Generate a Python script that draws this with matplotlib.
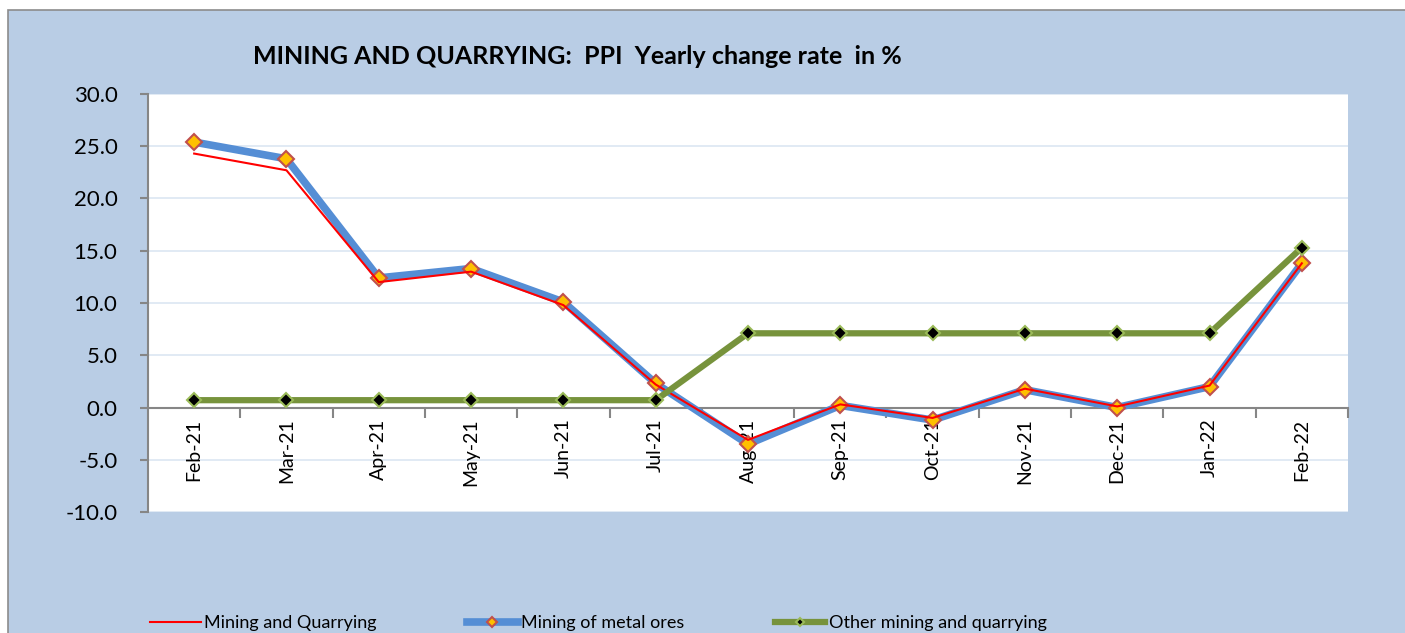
import numpy as np
import matplotlib.pyplot as plt
from matplotlib.patches import Rectangle
from matplotlib.ticker import FixedLocator, NullFormatter

plt.rcParams['font.family'] = ['Lato', 'DejaVu Sans']

months = ['Feb-21', 'Mar-21', 'Apr-21', 'May-21', 'Jun-21', 'Jul-21', 'Aug-21',
          'Sep-21', 'Oct-21', 'Nov-21', 'Dec-21', 'Jan-22', 'Feb-22']
mining_quarrying = [24.3, 22.7, 12.0, 13.0, 9.8, 2.2, -3.1, 0.3, -1.0, 1.8, 0.1, 2.1, 13.8]
metal_ores = [25.4, 23.8, 12.4, 13.3, 10.1, 2.3, -3.5, 0.2, -1.2, 1.7, 0.0, 2.0, 13.8]
other_mining = [0.7, 0.7, 0.7, 0.7, 0.7, 0.7, 7.1, 7.1, 7.1, 7.1, 7.1, 7.1, 15.3]
yticks = [30, 25, 20, 15, 10, 5, 0, -5, -10]

fig = plt.figure(figsize=(14.05, 6.33), dpi=100)
fig.patch.set_facecolor('white')
# light blue chart panel with grey border
fig.patches.append(Rectangle((8/1405, -0.01), 1.0, 1 - 10/633 + 0.01, transform=fig.transFigure,
                             facecolor='#B9CDE5', edgecolor='#8C8C8C', linewidth=1.2, zorder=0))

ax = fig.add_axes([148/1405, 1 - 512/633, 1200/1405, 418/633])
ax.set_zorder(2)
ax.set_facecolor('white')
x = np.arange(len(months))

ax.plot(x, metal_ores, color='#558ED5', lw=5.5, marker='D', markersize=8.5,
        markerfacecolor='#FFC000', markeredgecolor='#C0504D', markeredgewidth=1.5,
        label='Mining of metal ores', zorder=3)
ax.plot(x, mining_quarrying, color='#FF0000', lw=1.5, label='Mining and Quarrying', zorder=4)
ax.plot(x, other_mining, color='#77933C', lw=4.5, marker='D', markersize=7,
        markerfacecolor='black', markeredgecolor='#9BBB59', markeredgewidth=1.5,
        label='Other mining and quarrying', zorder=5)

ax.set_xlim(-0.5, 12.5)
ax.set_ylim(-10, 30)
ax.set_yticks(yticks)
ax.set_yticklabels(['%.1f' % v for v in yticks], fontsize=16)
ax.grid(axis='y', color='#DCE6F2', lw=1.2)
ax.set_axisbelow(True)
ax.xaxis.set_zorder(1)  # keep month labels above the y gridlines

for s in ['top', 'right']:
    ax.spines[s].set_visible(False)
ax.spines['left'].set_color('#868686')
ax.spines['left'].set_linewidth(1.5)
ax.spines['bottom'].set_position(('data', 0))
ax.spines['bottom'].set_color('#868686')
ax.spines['bottom'].set_linewidth(1.5)

ax.set_xticks(x)
ax.set_xticklabels(months, rotation=90, fontsize=14)
ax.tick_params(axis='x', which='major', length=0, pad=8)
ax.xaxis.set_minor_locator(FixedLocator(np.arange(0.5, 12.6, 1)))
ax.xaxis.set_minor_formatter(NullFormatter())
ax.tick_params(axis='x', which='minor', length=7, color='#868686', width=1.5)
ax.tick_params(axis='y', length=6, color='#868686', width=1.5, pad=16)

fig.text(577/1405, 1 - 56/633, 'MINING AND QUARRYING:  PPI  Yearly change rate  in %',
         ha='center', va='center', fontsize=18, fontweight='bold')

h, l = ax.get_legend_handles_labels()
order = [1, 0, 2]
fig.legend([h[i] for i in order], [l[i] for i in order], loc='center left',
           bbox_to_anchor=(143/1405, 1 - 623/633), ncol=3, frameon=False,
           fontsize=13, handlelength=2.8, handletextpad=0.2, columnspacing=5.0,
           borderaxespad=0, markerscale=0.6)

fig.savefig('out.png', dpi=100)
